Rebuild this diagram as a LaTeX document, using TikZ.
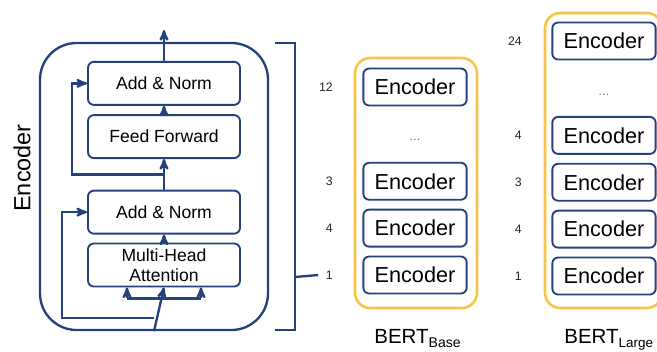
\documentclass[tikz,border=0pt]{standalone}
\usepackage{fontspec}
\setmainfont{Liberation Sans}
\usetikzlibrary{arrows,positioning,calc}

\definecolor{bertblue}{RGB}{38,66,124}
\definecolor{bertyellow}{RGB}{245,196,72}

\begin{document}
\begin{tikzpicture}[x=0.03cm, y=-0.03cm, >=stealth', semithick,
  layer/.style={draw=bertblue, line width=1.6pt, rounded corners=5pt, align=center,
    minimum width=4.56cm, minimum height=1.29cm, font=\fontsize{15}{17}\selectfont},
  enc/.style={draw=bertblue, line width=1.6pt, rounded corners=5pt,
    minimum width=3.1cm, minimum height=1.11cm, font=\fontsize{18.5}{20}\selectfont},
  num/.style={inner sep=0pt, text=black!85, font=\fontsize{10.5}{11}\selectfont},
  flow/.style={->, draw=bertblue, line width=2pt},
  wire/.style={draw=bertblue, line width=2pt},
  stack/.style={draw=bertyellow, line width=2.2pt, rounded corners=13pt}]

\useasboundingbox (0,0) rectangle (657,351);

% encoder block
\node[draw=bertblue, line width=2pt, rounded corners=1.1cm,
      minimum width=6.84cm, minimum height=8.61cm] (encbox) at (154,186.5) {};
\node[rotate=90, font=\fontsize{20}{22}\selectfont] (enctitle) at (22,168) {Encoder};

\node[layer] (mha)                        at (164,265) {Multi-Head\\Attention};
\node[layer] (an1) [above=0.24cm of mha]  {Add \& Norm};
\node[layer] (ff)  [above=0.92cm of an1]  {Feed Forward};
\node[layer] (an2) [above=0.25cm of ff]   {Add \& Norm};

\coordinate (out)    at (164,30);
\coordinate (split1) at ($(encbox.south)+(0,-13)$);
\coordinate (split2) at ($(an1.north)!0.5!(ff.south)$);
\coordinate (fan)    at ($(mha.south)+(0,11)$);

\draw[flow] (encbox.south) -- (mha.south);
\draw[wire] ($(fan)+(-37,0)$) -- ($(fan)+(37,0)$);
\draw[flow] ($(fan)+(-37,0)$) -- ($(mha.south)+(-37,0)$);
\draw[flow] ($(fan)+(37,0)$)  -- ($(mha.south)+(37,0)$);
\draw[flow] (split1) -- ++(-92,0) |- (an1.west);
\draw[flow] (mha) -- (an1);
\draw[flow] (an1) -- (ff);
\draw[flow] (split2) -- ++(-92,0) |- (an2.west);
\draw[flow] (ff) -- (an2);
\draw[flow] (an2) -- (out);

% bracket
\coordinate (brtop) at (275,43);
\coordinate (brbot) at (275,330);
\draw[wire] (brtop) -- ++(20,0) -- ++(0,287) -- (brbot);

% BERT base
\draw[stack] (355,58) rectangle (477,308);
\node[enc] (b1)                      at (415,275) {Encoder};
\node[enc] (b4)  [above=0.24cm of b1] {Encoder};
\node[enc] (b3)  [above=0.24cm of b4] {Encoder};
\node[text=black!60, font=\fontsize{10}{10}\selectfont] (bdots) at (415,140) {\dots};
\node[enc] (b12)                     at (415,87) {Encoder};

\node[num] (nb1)  [left=0.88cm of b1]  {1};
\node[num] (nb4)  [left=0.88cm of b4]  {4};
\node[num] (nb3)  [left=0.88cm of b3]  {3};
\node[num] (nb12) [left=0.88cm of b12] {12};
\draw[wire] (295,277) -- ([xshift=-0.22cm]nb1.west);

\node[anchor=base west, inner sep=0pt, font=\fontsize{17.5}{18}\selectfont] (basename) at (374,343)
  {BERT\raisebox{-0.4ex}{\fontsize{12}{12}\selectfont Base}};

% BERT large
\draw[stack] (545,13) rectangle (662,308);
\node[enc] (l1)                      at (604,276) {Encoder};
\node[enc] (l2)  [above=0.24cm of l1] {Encoder};
\node[enc] (l3)  [above=0.24cm of l2] {Encoder};
\node[enc] (l4)  [above=0.24cm of l3] {Encoder};
\node[text=black!60, font=\fontsize{10}{10}\selectfont] (ldots) at (604,95) {\dots};
\node[enc] (l24)                     at (604,41) {Encoder};

\node[num] (nl1)  [left=0.88cm of l1]  {1};
\node[num] (nl2)  [left=0.88cm of l2]  {4};
\node[num] (nl3)  [left=0.88cm of l3]  {3};
\node[num] (nl4)  [left=0.88cm of l4]  {4};
\node[num] (nl24) [left=0.88cm of l24] {24};

\node[anchor=base west, inner sep=0pt, font=\fontsize{17.5}{18}\selectfont] (largename) at (564,343)
  {BERT\raisebox{-0.4ex}{\fontsize{11.5}{12}\selectfont Large}};

\end{tikzpicture}
\end{document}
